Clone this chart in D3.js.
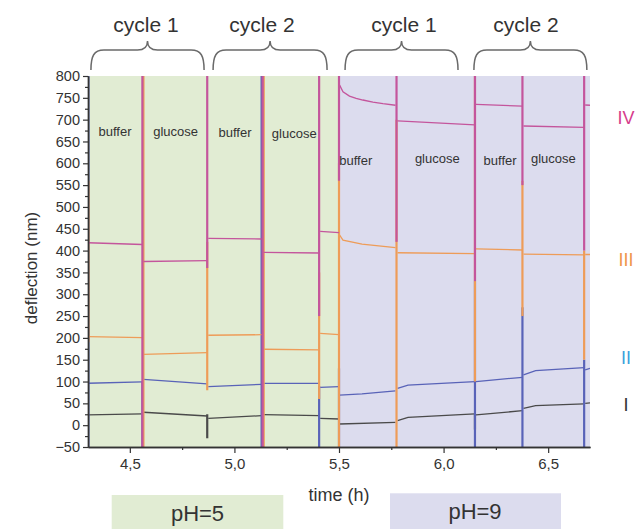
<!DOCTYPE html>
<html><head><meta charset="utf-8">
<script src="https://cdn.jsdelivr.net/npm/d3@7"></script>
<style>
html,body{margin:0;padding:0;background:#fff;}
svg{display:block;font-family:"Liberation Sans",Arial,sans-serif;}
</style></head>
<body><svg id="c" width="636" height="529"></svg>
<script>
// ---------- data ----------
const xDomain = [4.3, 6.7];
const yDomain = [-50, 800];
const xTickValues = [4.5, 5.0, 5.5, 6.0, 6.5];
const xTickLabels = ["4,5", "5,0", "5,5", "6,0", "6,5"];
const xMinorTicks = [4.75, 5.25, 5.75, 6.25];
const yTickValues = [-50,0,50,100,150,200,250,300,350,400,450,500,550,600,650,700,750,800];
const yMinorTicks = [-25,25,75,125,175,225,275,325,375,425,475,525,575,625,675,725,775];
const phaseNames = ["pH=5", "pH=9"];
const phaseStart = [4.3, 5.5];
const phaseEnd = [5.5, 6.7];
const seriesNames = ["I", "II", "III", "IV"];

// deflection traces (nm vs h); null = break between segments
const seriesI = [[4.3,23.4],[4.56,25.7],null,[4.565,29.6],[4.87,21],null,[4.875,15.8],[5.13,21.8],null,[5.14,24],[5.405,21.8],null,[5.41,15.8],[5.5,14.2],null,[5.503,2.7],[5.77,6.6],null,[5.78,10.3],[5.83,18.1],[6.15,25.7],null,[6.155,23.4],[6.377,33.2],null,[6.382,38.7],[6.44,44.7],[6.672,48.6],null,[6.677,50],[6.7,51]];
const seriesII = [[4.3,96],[4.56,99],null,[4.565,105],[4.87,94.4],null,[4.875,88.2],[5.13,93.7],null,[5.14,96],[5.405,96],null,[5.41,86.8],[5.5,88.2],null,[5.503,69],[5.61,71.5],[5.77,78.4],null,[5.78,84.5],[5.83,92],[6.15,99.7],null,[6.155,99.7],[6.377,109.7],null,[6.382,115],[6.44,125],[6.672,131.7],null,[6.677,126.5],[6.7,130]];
const seriesIII = [[4.3,202.7],[4.56,200.5],null,[4.565,162.4],[4.87,166],null,[4.875,206],[5.13,207.3],null,[5.14,174],[5.405,172.3],null,[5.41,210.5],[5.5,207.3],null,[5.503,435.7],[5.519,424],[5.61,415],[5.77,406.6],null,[5.78,395],[6.15,393],null,[6.155,403.7],[6.377,401.4],null,[6.382,392],[6.672,390],null,[6.677,391],[6.7,391]];
const seriesIV = [[4.3,418],[4.56,414],null,[4.565,375],[4.87,377],null,[4.875,428],[5.13,426.5],null,[5.14,396],[5.405,394.5],null,[5.41,444],[5.5,441],null,[5.503,779],[5.519,764],[5.55,754],[5.582,749],[5.614,745],[5.662,740],[5.71,736.5],[5.77,733],null,[5.78,697],[6.15,688],null,[6.155,735],[6.377,731],null,[6.382,685.5],[6.672,682.5],null,[6.677,733.6],[6.7,733]];

// spikes at liquid exchange: [time, low, high]
const spikesI = [[4.87,-30,25],[6.15,-10,25]];
const spikesII = [[4.302,-50,800],[4.56,-50,100],[5.13,-50,800],[5.405,-50,90],[5.5,-50,130],[6.15,-50,330],[6.377,-50,270],[6.672,-50,150]];
const spikesIII = [[4.302,190,560],[4.565,-50,800],[4.87,80,420],[5.14,-50,800],[5.405,60,350],[5.5,-50,600],[5.775,-50,700],[6.15,100,800],[6.377,250,560],[6.672,150,400]];
const spikesIV = [[4.56,-50,800],[4.87,360,800],[5.135,-50,800],[5.405,250,800],[5.5,560,800],[5.775,420,800],[6.15,330,800],[6.377,550,800],[6.672,400,800]];

const stepNames = ["buffer","glucose","buffer","glucose","buffer","glucose","buffer","glucose"];
const stepT = [4.429, 4.719, 5.003, 5.286, 5.580, 5.970, 6.270, 6.525];
const stepV = [672, 674, 671, 669, 607, 611, 607, 611];

const cycleNames = ["cycle 1","cycle 2","cycle 1","cycle 2"];
const cycleStart = [4.314, 4.898, 5.529, 6.145];
const cycleEnd = [4.855, 5.443, 6.069, 6.685];
const cycleLabelT = [4.577, 5.132, 5.811, 6.394];

// ---------- drawing ----------
const svg = d3.select("#c");
const font = '"Liberation Sans",Arial,sans-serif';
const plot = {l: 88, r: 590, t: 76, b: 447};
const x = d3.scaleLinear().domain(xDomain).range([plot.l, plot.r]);
const y = d3.scaleLinear().domain(yDomain).range([plot.b, plot.t]);

const phaseFill = ["#e1ecd3", "#dcdcee"];
const seriesColor = {I: "#4a4a4a", II: "#5963b8", III: "#ee9c58", IV: "#c4559c"};
const labelColor = {I: "#333333", II: "#3a9fdc", III: "#ef944a", IV: "#d63c8c"};

svg.append("defs").append("clipPath").attr("id","clip")
  .append("rect").attr("x", plot.l).attr("y", plot.t)
  .attr("width", plot.r - plot.l).attr("height", plot.b - plot.t);

// backgrounds
svg.append("g").selectAll("rect").data(phaseNames).join("rect")
  .attr("x", (d,i) => x(phaseStart[i]))
  .attr("width", (d,i) => x(phaseEnd[i]) - x(phaseStart[i]))
  .attr("y", plot.t).attr("height", plot.b - plot.t)
  .attr("fill", (d,i) => phaseFill[i]);

const g = svg.append("g").attr("clip-path", "url(#clip)");
const line = d3.line().defined(d => d !== null).x(d => x(d[0])).y(d => y(d[1]));
const traces = {I: seriesI, II: seriesII, III: seriesIII, IV: seriesIV};
const spikes = {I: spikesI, II: spikesII, III: spikesIII, IV: spikesIV};

seriesNames.forEach(name => {
  g.append("path").datum(traces[name])
    .attr("d", line).attr("fill", "none")
    .attr("stroke", seriesColor[name]).attr("stroke-width", 1.3);
  g.append("g").selectAll("line").data(spikes[name]).join("line")
    .attr("x1", d => x(d[0])).attr("x2", d => x(d[0]))
    .attr("y1", d => y(d[1])).attr("y2", d => y(d[2]))
    .attr("stroke", seriesColor[name]).attr("stroke-width", 2.2);
});

// axes
const xAxis = d3.axisBottom(x).tickValues(xTickValues)
  .tickFormat((d,i) => xTickLabels[i]).tickSize(6).tickSizeOuter(0).tickPadding(5);
const gx = svg.append("g").attr("transform", `translate(0,${plot.b})`).call(xAxis);
const xMinorAxis = d3.axisBottom(x).tickValues(xMinorTicks).tickFormat("").tickSize(3).tickSizeOuter(0);
svg.append("g").attr("transform", `translate(0,${plot.b})`).call(xMinorAxis);

const yAxis = d3.axisLeft(y).tickValues(yTickValues).tickFormat(d3.format("d"))
  .tickSize(5).tickSizeOuter(0).tickPadding(3);
const gy = svg.append("g").attr("transform", `translate(${plot.l},0)`).call(yAxis);
const yMinorAxis = d3.axisLeft(y).tickValues(yMinorTicks).tickFormat("").tickSize(3).tickSizeOuter(0);
svg.append("g").attr("transform", `translate(${plot.l},0)`).call(yMinorAxis);

svg.selectAll(".domain").attr("stroke", "#333").attr("stroke-width", 1.4);
svg.selectAll(".tick line").attr("stroke", "#333").attr("stroke-width", 1.2);
gx.selectAll("text").attr("font-size", 15).attr("font-family", font).attr("fill", "#333");
gy.selectAll("text").attr("font-size", 14.5).attr("font-family", font).attr("fill", "#333");

// axis titles
svg.append("text").attr("x", 339).attr("y", 501).attr("text-anchor", "middle")
  .attr("font-size", 18).attr("fill", "#333").text("time (h)");
svg.append("text").attr("transform", "translate(37,268) rotate(-90)")
  .attr("text-anchor", "middle").attr("font-size", 17).attr("fill", "#333").text("deflection (nm)");

// step labels
svg.append("g").selectAll("text").data(stepNames).join("text")
  .attr("x", (d,i) => x(stepT[i])).attr("y", (d,i) => y(stepV[i]))
  .attr("dy", "0.35em").attr("text-anchor", "middle")
  .attr("font-size", 13).attr("fill", "#333").text(d => d);

// series labels on the right
const seriesLabelY = {I: 405, II: 358, III: 260, IV: 118};
svg.append("g").selectAll("text").data(seriesNames).join("text")
  .attr("x", 626).attr("y", d => seriesLabelY[d]).attr("dy", "0.35em")
  .attr("text-anchor", "middle").attr("font-size", 18)
  .attr("fill", d => labelColor[d]).text(d => d);

// cycle braces
const bTop = 50, bEnd = 70, bTip = 41;
function brace(x1, x2) {
  const xc = (x1 + x2) / 2;
  return `M${x1},${bEnd} C${x1},${bTop+6} ${x1+3},${bTop} ${x1+13},${bTop} L${xc-10},${bTop} ` +
         `C${xc-4},${bTop} ${xc},${bTop-3} ${xc},${bTip} C${xc},${bTop-3} ${xc+4},${bTop} ${xc+10},${bTop} ` +
         `L${x2-13},${bTop} C${x2-3},${bTop} ${x2},${bTop+6} ${x2},${bEnd}`;
}
svg.append("g").selectAll("path").data(cycleNames).join("path")
  .attr("d", (d,i) => brace(x(cycleStart[i]), x(cycleEnd[i])))
  .attr("fill", "none").attr("stroke", "#6a6a6a").attr("stroke-width", 1.5);
svg.append("g").selectAll("text").data(cycleNames).join("text")
  .attr("x", (d,i) => x(cycleLabelT[i])).attr("y", 32).attr("text-anchor", "middle")
  .attr("font-size", 21).attr("fill", "#333").text(d => d);

// pH boxes
const boxX = [111.7, 390], boxW = [171.6, 171], boxY = [495, 493.3];
const pg = svg.append("g");
pg.selectAll("rect").data(phaseNames).join("rect")
  .attr("x", (d,i) => boxX[i]).attr("y", (d,i) => boxY[i])
  .attr("width", (d,i) => boxW[i]).attr("height", (d,i) => 529 - boxY[i])
  .attr("fill", (d,i) => phaseFill[i]);
pg.selectAll("text").data(phaseNames).join("text")
  .attr("x", (d,i) => boxX[i] + boxW[i] / 2 + (i === 0 ? 0 : -0.5))
  .attr("y", (d,i) => boxY[i] + 18).attr("dy", "0.35em")
  .attr("text-anchor", "middle").attr("font-size", 22).attr("fill", "#333").text(d => d);
</script></body></html>
